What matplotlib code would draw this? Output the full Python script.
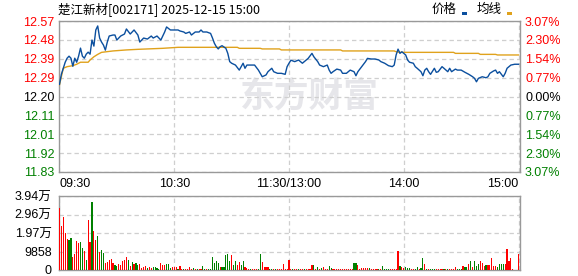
import matplotlib
matplotlib.use("Agg")
import matplotlib.pyplot as plt
from matplotlib.patches import Rectangle

# ---------------- data ----------------
title = "楚江新材[002171] 2025-12-15 15:00"
prev_close = 12.20
pct_ticks = [3.07, 2.30, 1.54, 0.77, 0.00, -0.77, -1.54, -2.30, -3.07]
time_ticks = [0, 60, 120, 180, 240]
time_labels = ["09:30", "10:30", "11:30/13:00", "14:00", "15:00"]
vol_ticks = [0, 9858, 19716, 29574, 39432]
vol_labels = ["0", "9858", "1.97万", "2.96万", "3.94万"]

price_minutes = [0, 1, 2, 3, 4, 5, 6, 7, 8, 9, 10, 11, 12, 13, 14, 15, 16, 17, 18, 19,
                 20, 21, 22, 23, 24, 25, 26, 28, 29, 30, 32, 34, 35, 37, 39, 41, 42, 44, 46, 48,
                 49, 51, 53, 55, 56, 58, 60, 62, 63, 65, 66, 68, 69, 71, 73, 74, 75, 77, 79, 80,
                 81, 82, 83, 84, 85, 87, 88, 89, 90, 92, 94, 95, 96, 97, 98, 100, 102, 104, 106, 108,
                 109, 111, 112, 114, 116, 118, 119, 120,
                 121, 123, 125, 127, 128, 130, 132, 133, 135, 136, 138, 140, 141, 142, 143, 145, 147, 148,
                 150, 152, 154, 155, 156, 158, 160, 161, 163, 165, 167, 168, 170, 172, 174, 175, 176, 177,
                 178, 179, 181, 182, 183, 185, 186, 187, 189, 190, 191, 192, 193, 194, 196, 197, 198, 200,
                 201, 203, 204, 205, 207, 208, 210, 212, 214, 216, 217, 218, 219, 221, 223, 224, 225, 227,
                 228, 229, 230, 232, 233, 234, 236, 238, 240]
price_values = [12.26, 12.31, 12.34, 12.37, 12.39, 12.40, 12.39, 12.35, 12.39, 12.37, 12.40, 12.44, 12.40, 12.39, 12.41, 12.42, 12.41, 12.48, 12.45, 12.53,
                12.55, 12.49, 12.47, 12.455, 12.43, 12.47, 12.50, 12.505, 12.505, 12.48, 12.50, 12.51, 12.535, 12.51, 12.53, 12.505, 12.47, 12.49, 12.485, 12.50,
                12.49, 12.50, 12.48, 12.52, 12.545, 12.53, 12.53, 12.53, 12.525, 12.52, 12.513, 12.52, 12.505, 12.52, 12.52, 12.53, 12.52, 12.52, 12.513, 12.49,
                12.464, 12.447, 12.436, 12.447, 12.452, 12.439, 12.414, 12.373, 12.365, 12.356, 12.331, 12.348, 12.365, 12.34, 12.356, 12.356, 12.356, 12.331, 12.298, 12.307,
                12.323, 12.34, 12.323, 12.315, 12.315, 12.31, 12.348, 12.365,
                12.38, 12.373, 12.381, 12.365, 12.373, 12.389, 12.414, 12.397, 12.373, 12.356, 12.348, 12.356, 12.331, 12.315, 12.323, 12.336, 12.331, 12.315,
                12.315, 12.331, 12.323, 12.303, 12.323, 12.348, 12.373, 12.389, 12.386, 12.386, 12.381, 12.373, 12.365, 12.353, 12.348, 12.356, 12.406, 12.435,
                12.414, 12.422, 12.406, 12.381, 12.370, 12.365, 12.348, 12.340, 12.323, 12.303, 12.331, 12.340, 12.323, 12.310, 12.340, 12.320, 12.323, 12.348,
                12.340, 12.323, 12.340, 12.323, 12.336, 12.331, 12.331, 12.320, 12.310, 12.298, 12.290, 12.273, 12.290, 12.298, 12.293, 12.298, 12.315, 12.327,
                12.331, 12.315, 12.323, 12.298, 12.315, 12.340, 12.356, 12.360, 12.360]

avg_minutes = [0, 1, 2, 4, 7, 9, 11, 15, 16, 18, 20, 22, 28, 35, 41, 54, 62, 93, 94, 105,
               106, 115, 116, 147, 148, 175, 176, 178, 206, 207, 219, 220, 228, 229, 240]
avg_values = [12.257, 12.298, 12.34, 12.348, 12.353, 12.36, 12.37, 12.37, 12.381, 12.397, 12.409, 12.419, 12.426, 12.431, 12.434, 12.439, 12.444, 12.444, 12.439, 12.439,
              12.436, 12.436, 12.431, 12.431, 12.426, 12.426, 12.422, 12.419, 12.419, 12.414, 12.414, 12.409, 12.409, 12.406, 12.406]

volumes = [
    32870, 23450, 28400, 19900, 16350, 16000, 16880, 7100, 8530, 15630,
    14570, 15100, 11550, 10130, 5330, 26650, 15100, 36070, 20790, 16000,
    18120, 9770, 10660, 8880, 3910, 4440, 5330, 5860, 3910, 2670,
    2130, 3200, 2670, 4800, 5330, 6750, 5330, 2130, 4260, 3200,
    3550, 2670, 3020, 890, 1780, 2130, 1070, 1420, 1070, 1600,
    1600, 1070, 360, 3550, 2670, 2670, 3020, 3020, 890, 1420,
    1400, 1400, 700, 2130, 700, 700, 500, 500, 1400, 700,
    1070, 400, 400, 400, 400, 2130, 400, 400, 400, 400,
    7100, 3900, 4970, 3550, 1780, 1420, 1420, 8000, 8530, 4970,
    8000, 2670, 4800, 2670, 4440, 2670, 4970, 1420, 890, 700,
    500, 700, 500, 700, 500, 8530, 4440, 1420, 1780, 1420,
    500, 500, 500, 500, 500, 500, 500, 3200, 500, 500,
    5330, 500, 360, 360, 360, 360, 360, 360, 360, 360,
    360, 360, 2490, 2490, 700, 1420, 700, 1070, 1600, 700,
    360, 2130, 1070, 360, 360, 360, 360, 360, 360, 360,
    360, 360, 500, 360, 3730, 3730, 2670, 700, 1070, 1070,
    1070, 1070, 1070, 360, 360, 360, 360, 360, 360, 2130,
    360, 360, 360, 360, 360, 360, 360, 10300, 2130, 1420,
    1070, 1600, 1070, 1070, 500, 500, 500, 1600, 700, 1070,
    6400, 3200, 360, 360, 360, 360, 360, 700, 500, 500,
    500, 360, 700, 500, 360, 360, 500, 1600, 700, 700,
    700, 2130, 1420, 1420, 3200, 4800, 1420, 4800, 2130, 3200,
    4800, 3730, 2130, 2670, 2670, 2670, 6400, 2130, 2130, 1420,
    3200, 3200, 3200, 3200, 11200, 4800, 6400, 360, 0, 0,
    8500,
]
vol_dirs = ("rrrrrggrrr" "rggrgrrgrr" "grggrrrrrg" "grrrrrgrgr" "ggrrrrgrrg"
            "gggrrrgggr" "rrgrrgrrrr" "grgrrggrgg" "ggggrggggg" "rggrrggrrr"
            "grrrggrrrr" "ggrgrrrrrr" "rrgrrgrrgr" "rrrgrgrgrr" "rggrrrrrrr"
            "rrrrggrrrr" "rrgrrrrgrg" "gggrrrrrgr" "rgggrrggrg" "grgrgggrrr"
            "rgrgrrrrgg" "grggrgrggg" "rrrgrrrrrg" "gggrrrrrrr" "r")

# ---------------- style ----------------
W, H = 578, 276
BLUE = "#0b4f9e"
GOLD = "#e0a21c"
RED = "#ff0000"
GREEN = "#008000"
FRAME = "#999999"
GRID = "#cfcfcf"
FAM = ["Liberation Sans", "Noto Sans CJK SC", "DejaVu Sans"]
plt.rcParams["font.family"] = FAM

fig = plt.figure(figsize=(W / 100, H / 100), dpi=100)


def rect(l, t, r, b):
    return [l / W, 1 - b / H, (r - l) / W, (b - t) / H]


ax = fig.add_axes(rect(58.5, 21, 519.5, 172))
axv = fig.add_axes(rect(58.5, 196, 519.5, 270))

ytick_pos = [prev_close * (1 + p / 100) for p in pct_ticks]
ymin, ymax = min(ytick_pos), max(ytick_pos)


def label_color(p):
    return RED if p > 0 else (GREEN if p < 0 else "black")


for a in (ax, axv):
    a.set_xlim(-0.5, 240.5)
    for s in a.spines.values():
        s.set_color(FRAME)
        s.set_linewidth(1.0)
    a.tick_params(length=0)
    a.set_xticks(time_ticks)
    a.grid(True, color=GRID, linestyle=(0, (3.5, 2.5)), linewidth=0.9)
    a.set_axisbelow(True)

# watermark
ax.text(0.545, 0.50, "东方财富", transform=ax.transAxes, ha="center", va="center",
        fontsize=25, fontweight="bold", color="#e6e6ea", family=["Noto Sans CJK SC"], zorder=0)

ax.plot(avg_minutes, avg_values, color=GOLD, linewidth=1.0, zorder=3)
ax.plot(price_minutes, price_values, color=BLUE, linewidth=1.0, zorder=4)

ax.set_ylim(ymin, ymax)
ax.set_yticks(ytick_pos)
ax.set_yticklabels([f"{v:.2f}" for v in ytick_pos], fontsize=9)
for t, p in zip(ax.get_yticklabels(), pct_ticks):
    t.set_color(label_color(p))
ax.tick_params(axis="y", pad=3)
ax.set_xticklabels(time_labels, fontsize=9)
ax.tick_params(axis="x", pad=4)
xl = ax.get_xticklabels()
xl[0].set_ha("left")
xl[-1].set_ha("right")

axr = ax.twinx()
axr.set_ylim(ymin, ymax)
axr.set_yticks(ytick_pos)
axr.set_yticklabels([f"{abs(p):.2f}%" for p in pct_ticks], fontsize=9)
for t, p in zip(axr.get_yticklabels(), pct_ticks):
    t.set_color(label_color(p))
axr.tick_params(length=0, pad=4)
for s in axr.spines.values():
    s.set_visible(False)

# volume
colors = [RED if c == "r" else GREEN for c in vol_dirs]
axv.bar(range(len(volumes)), volumes, width=0.6, color=colors, linewidth=0,
        antialiased=False, zorder=3)
axv.set_ylim(0, vol_ticks[-1])
axv.set_yticks(vol_ticks)
axv.set_yticklabels(vol_labels, fontsize=9)
axv.tick_params(axis="y", pad=5)
axv.set_xticklabels([])

# title and legend
fig.text(58 / W, 1 - 9 / H, title, ha="left", va="center", fontsize=9,
         family=["Noto Sans CJK SC", "DejaVu Sans"])
fig.text(432 / W, 1 - 9 / H, "价格", ha="left", va="center", fontsize=9,
         family=["Noto Sans CJK SC"])
fig.add_artist(Rectangle((462 / W, 1 - 15 / H), 5 / W, 3 / H, transform=fig.transFigure,
                         color=BLUE, linewidth=0))
fig.text(477 / W, 1 - 9 / H, "均线", ha="left", va="center", fontsize=9,
         family=["Noto Sans CJK SC"])
fig.add_artist(Rectangle((507 / W, 1 - 15 / H), 5 / W, 3 / H, transform=fig.transFigure,
                         color=GOLD, linewidth=0))

fig.savefig("out.png", dpi=100)
